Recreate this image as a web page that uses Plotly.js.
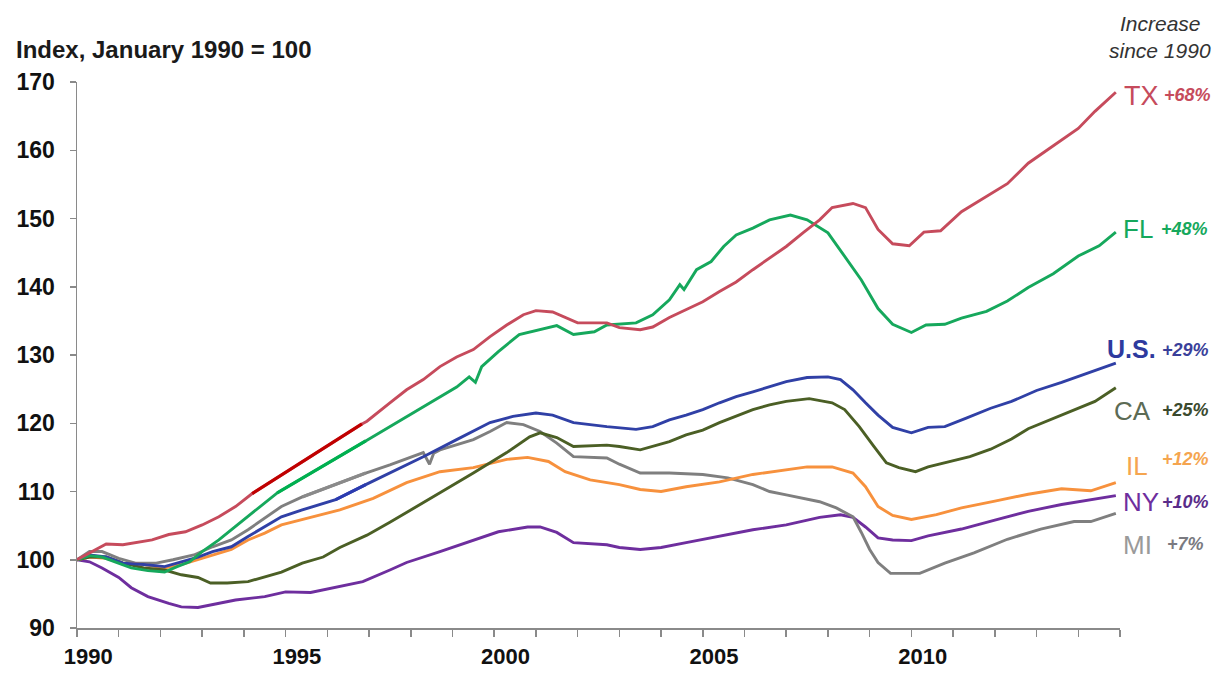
<!DOCTYPE html>
<html>
<head>
<meta charset="utf-8">
<script src="https://cdn.plot.ly/plotly-3.0.1.min.js"></script>
<style>html,body{margin:0;padding:0;background:#fff;}#chart{width:1221px;height:673px;}</style>
</head>
<body>
<div id="chart"></div>
<script>
// ---------- DATA (index, January 1990 = 100) ----------
const txYears = [1990.0,1990.3,1990.7,1991.1,1991.4,1991.8,1992.2,1992.6,1993.0,1993.4,1993.8,1994.2,1996.83,1996.95,1997.5,1997.9,1998.3,1998.7,1999.1,1999.5,1999.9,2000.3,2000.7,2001.0,2001.4,2001.7,2002.0,2002.7,2003.0,2003.5,2003.8,2004.2,2004.6,2005.0,2005.4,2005.8,2006.2,2006.6,2007.0,2007.4,2007.8,2008.1,2008.6,2008.9,2009.2,2009.55,2009.95,2010.3,2010.7,2011.2,2011.8,2012.3,2012.8,2013.4,2014.0,2014.4,2014.9];
const txValues = [100,101.0,102.3,102.2,102.5,102.9,103.7,104.1,105.1,106.3,107.8,109.7,119.9,120.3,123.0,124.9,126.4,128.3,129.7,130.8,132.7,134.4,135.9,136.5,136.3,135.5,134.7,134.7,134.0,133.7,134.1,135.5,136.6,137.8,139.3,140.7,142.5,144.2,145.9,147.9,149.8,151.6,152.2,151.6,148.4,146.3,146.0,148.0,148.2,151.0,153.3,155.1,158.1,160.6,163.2,165.7,168.5];

const flYears = [1990.0,1990.3,1990.6,1991.0,1991.3,1991.7,1992.1,1992.4,1992.7,1993.0,1993.4,1993.8,1994.2,1994.6,1994.8,1996.92,1997.5,1997.9,1998.3,1998.7,1999.1,1999.4,1999.55,1999.7,2000.1,2000.6,2001.1,2001.5,2001.9,2002.4,2002.7,2003.0,2003.4,2003.8,2004.2,2004.45,2004.55,2004.85,2005.2,2005.5,2005.8,2006.2,2006.6,2007.1,2007.5,2008.0,2008.4,2008.8,2009.2,2009.55,2010.0,2010.35,2010.8,2011.2,2011.8,2012.3,2012.8,2013.4,2014.0,2014.5,2014.9];
const flValues = [100,100.6,100.4,99.5,98.8,98.4,98.2,99.0,99.7,101.2,102.9,104.9,106.9,108.8,109.8,117.4,119.5,121.0,122.4,123.9,125.3,126.8,126.0,128.3,130.5,133.0,133.7,134.3,133.0,133.4,134.4,134.5,134.7,135.9,138.1,140.3,139.6,142.5,143.7,145.9,147.6,148.6,149.8,150.5,149.8,147.9,144.4,141.0,136.8,134.5,133.3,134.4,134.5,135.4,136.4,137.9,139.9,141.9,144.5,146.0,148.0];

const usYears = [1990.0,1990.3,1990.7,1991.1,1991.6,1992.1,1992.5,1992.9,1993.25,1993.7,1994.1,1994.5,1994.9,1995.4,1995.9,1996.2,1996.92,1997.5,1998.3,1999.1,1999.9,2000.45,2001.0,2001.4,2001.9,2002.7,2003.4,2003.8,2004.2,2004.6,2005.0,2005.4,2005.8,2006.2,2006.6,2007.0,2007.5,2008.0,2008.3,2008.6,2008.9,2009.2,2009.55,2010.0,2010.4,2010.8,2011.3,2011.9,2012.4,2013.0,2013.6,2014.2,2014.9];
const usValues = [100,100.7,100.4,99.5,99.3,99.0,99.7,100.4,101.2,101.9,103.4,104.9,106.3,107.3,108.3,108.8,111.0,112.7,115.1,117.6,120.1,121.0,121.5,121.2,120.1,119.5,119.1,119.5,120.5,121.2,122.0,123.0,123.9,124.6,125.3,126.1,126.7,126.8,126.4,124.9,123.0,121.2,119.4,118.6,119.4,119.5,120.7,122.2,123.2,124.8,126.0,127.3,128.8];

const caYears = [1990.0,1990.3,1990.7,1991.1,1991.6,1992.1,1992.5,1992.9,1993.2,1993.6,1994.1,1994.5,1994.9,1995.4,1995.9,1996.3,1996.95,1997.5,1997.9,1998.7,1999.5,2000.3,2000.85,2001.1,2001.5,2001.9,2002.7,2003.0,2003.5,2003.8,2004.2,2004.6,2005.0,2005.4,2005.8,2006.2,2006.6,2007.0,2007.55,2008.1,2008.4,2008.75,2009.1,2009.4,2009.7,2010.1,2010.4,2010.8,2011.4,2011.9,2012.4,2012.8,2013.4,2014.0,2014.4,2014.9];
const caValues = [100,100.4,100.4,99.5,98.8,98.5,97.8,97.4,96.6,96.6,96.8,97.5,98.2,99.5,100.4,101.8,103.6,105.5,106.9,109.8,112.7,115.7,118.0,118.6,117.9,116.6,116.8,116.6,116.1,116.6,117.3,118.3,119.0,120.1,121.0,122.0,122.7,123.2,123.6,123.0,122.0,119.5,116.6,114.2,113.5,112.9,113.6,114.2,115.1,116.2,117.7,119.2,120.7,122.2,123.2,125.2];

const ilYears = [1990.0,1990.3,1990.7,1991.1,1991.6,1992.1,1992.5,1992.9,1993.25,1993.7,1994.1,1994.5,1994.9,1995.4,1995.9,1996.3,1997.1,1997.9,1998.7,1999.5,2000.3,2000.8,2001.3,2001.7,2002.3,2003.0,2003.5,2004.0,2004.6,2005.4,2006.2,2007.0,2007.5,2008.1,2008.6,2008.9,2009.2,2009.55,2010.0,2010.6,2011.2,2012.0,2012.8,2013.6,2014.3,2014.9];
const ilValues = [100,100.4,100.2,99.5,99.3,98.8,99.3,100.0,100.7,101.5,102.9,103.9,105.1,105.9,106.6,107.3,109.0,111.3,112.9,113.5,114.7,115.0,114.4,112.9,111.7,111.0,110.3,110.0,110.7,111.4,112.5,113.2,113.6,113.6,112.7,110.7,107.8,106.5,105.9,106.6,107.6,108.6,109.6,110.4,110.1,111.3];

const nyYears = [1990.0,1990.3,1990.6,1991.0,1991.3,1991.7,1992.2,1992.5,1992.9,1993.25,1993.8,1994.5,1995.0,1995.6,1996.2,1996.85,1997.5,1997.9,1998.7,1999.5,2000.1,2000.8,2001.1,2001.5,2001.9,2002.7,2003.0,2003.5,2004.0,2004.6,2005.4,2006.2,2007.0,2007.8,2008.3,2008.6,2008.9,2009.2,2009.55,2010.0,2010.4,2011.2,2012.0,2012.8,2013.6,2014.3,2014.9];
const nyValues = [100,99.7,98.8,97.4,95.9,94.6,93.6,93.1,93.0,93.4,94.1,94.6,95.3,95.2,96.0,96.8,98.5,99.6,101.2,102.9,104.1,104.8,104.8,104.0,102.5,102.2,101.8,101.5,101.8,102.5,103.4,104.4,105.1,106.2,106.6,106.2,104.8,103.2,102.9,102.8,103.5,104.5,105.8,107.1,108.1,108.8,109.4];

const miYears = [1990.0,1990.3,1990.6,1991.0,1991.4,1991.9,1992.3,1992.8,1993.25,1993.7,1994.1,1994.5,1994.9,1995.4,1996.92,1997.5,1998.3,1998.45,1998.55,1998.7,1999.5,1999.9,2000.3,2000.7,2001.1,2001.5,2001.9,2002.7,2003.0,2003.5,2004.2,2005.0,2005.6,2006.2,2006.6,2007.0,2007.8,2008.2,2008.6,2008.8,2009.0,2009.2,2009.5,2010.2,2010.8,2011.5,2012.3,2013.1,2013.9,2014.3,2014.9];
const miValues = [100,101.2,101.2,100.2,99.5,99.5,100.0,100.7,101.9,102.9,104.4,106.1,107.8,109.2,112.7,113.9,115.7,114.0,115.6,116.1,117.6,118.8,120.1,119.8,118.8,117.1,115.1,114.9,114.0,112.7,112.7,112.5,112.0,111.0,110.0,109.5,108.5,107.6,106.3,104.0,101.5,99.6,98.0,98.0,99.5,101.0,103.0,104.5,105.6,105.6,106.8];

// straight bridging segments drawn in the source (mid-1990s)
const txBridgeYears = [1994.2, 1996.83];
const txBridgeValues = [109.7, 119.9];
const flBridgeYears = [1994.8, 1996.92];
const flBridgeValues = [109.8, 117.4];
const miBridgeYears = [1995.4, 1996.92];
const miBridgeValues = [109.2, 112.7];
const usBridgeYears = [1996.2, 1996.92];
const usBridgeValues = [108.8, 111.0];

const xTickVals = [1990.27, 1995.27, 2000.27, 2005.27, 2010.27];
const xTickText = ['1990', '1995', '2000', '2005', '2010'];
const yTickVals = [90, 100, 110, 120, 130, 140, 150, 160, 170];

const seriesNames = ['TX', 'FL', 'U.S.', 'CA', 'IL', 'NY', 'MI'];
const increaseText = ['+68%', '+48%', '+29%', '+25%', '+12%', '+10%', '+7%'];

// ---------- STYLE ----------
const FONT = 'Arial, "Liberation Sans", Helvetica, sans-serif';
const C = {
  TX: '#C64B5C', FL: '#16A85C', US: '#3040A6', CA: '#4B5F25',
  IL: '#F7913D', NY: '#6E2E9E', MI: '#7F7F7F'
};
function line(x, y, color, w) {
  return {x: x, y: y, type: 'scatter', mode: 'lines',
          line: {color: color, width: w || 2.9, shape: 'linear'},
          hoverinfo: 'x+y', showlegend: false};
}
const traces = [
  line(nyYears, nyValues, C.NY),
  line(miYears, miValues, C.MI),
  line(ilYears, ilValues, C.IL),
  line(caYears, caValues, C.CA),
  line(usYears, usValues, C.US),
  line(flYears, flValues, C.FL),
  line(txYears, txValues, C.TX),
  line(txBridgeYears, txBridgeValues, '#C00000', 3.2),
  line(flBridgeYears, flBridgeValues, '#00B050', 3.2),
  line(miBridgeYears, miBridgeValues, '#8A8A8A', 3.2),
  line(usBridgeYears, usBridgeValues, '#2B3BB0', 3.2)
];

// plot area: left 77px, width 1043px
function px(p) { return (p - 77) / 1043; }
const labelCfg = [
  {name: seriesNames[0], pct: increaseText[0], c: C.TX, pc: '#C64B5C', nx: 1122, px: 1162, y: 167.9, py: 168.1, size: 27, bold: false},
  {name: seriesNames[1], pct: increaseText[1], c: C.FL, pc: '#16A85C', nx: 1121, px: 1159, y: 148.4, py: 148.4, size: 26, bold: false},
  {name: seriesNames[2], pct: increaseText[2], c: '#2E3A9E', pc: '#3A3F9A', nx: 1105, px: 1160, y: 130.9, py: 130.7, size: 25, bold: true},
  {name: seriesNames[3], pct: increaseText[3], c: '#5C6B55', pc: '#3B4A2E', nx: 1112, px: 1160, y: 121.8, py: 122.0, size: 26, bold: false},
  {name: seriesNames[4], pct: increaseText[4], c: '#F5A54F', pc: '#F5A54F', nx: 1124, px: 1160, y: 113.8, py: 114.7, size: 26, bold: false},
  {name: seriesNames[5], pct: increaseText[5], c: '#6E2E9E', pc: '#5A2C8A', nx: 1121, px: 1160, y: 108.4, py: 108.4, size: 26, bold: false},
  {name: seriesNames[6], pct: increaseText[6], c: '#9A9A9A', pc: '#7A7A80', nx: 1121, px: 1165, y: 102.1, py: 102.3, size: 26, bold: false}
];
const annotations = [];
labelCfg.forEach(function (d) {
  annotations.push({x: px(d.nx), y: d.y, xref: 'paper', yref: 'y', xanchor: 'left', yanchor: 'middle',
    text: d.name, showarrow: false,
    font: {family: FONT, size: d.size, color: d.c, weight: d.bold ? 'bold' : 'normal'}});
  annotations.push({x: px(d.px), y: d.py, xref: 'paper', yref: 'y', xanchor: 'left', yanchor: 'middle',
    text: '<b><i>' + d.pct + '</i></b>', showarrow: false,
    font: {family: FONT, size: 18, color: d.pc}});
});
annotations.push({xref: 'paper', yref: 'paper', x: px(1160), y: 1 + (82 - 24) / 546,
  xanchor: 'center', yanchor: 'middle', showarrow: false, text: '<i>Increase</i>',
  font: {family: FONT, size: 21, color: '#333'}});
annotations.push({xref: 'paper', yref: 'paper', x: px(1160), y: 1 + (82 - 51) / 546,
  xanchor: 'center', yanchor: 'middle', showarrow: false, text: '<i>since 1990</i>',
  font: {family: FONT, size: 21, color: '#333'}});

const layout = {
  width: 1221, height: 673,
  margin: {l: 77, r: 101, t: 82, b: 45, pad: 0},
  paper_bgcolor: '#ffffff', plot_bgcolor: '#ffffff',
  font: {family: FONT, color: '#111'},
  title: {text: 'Index, January 1990 = 100', xref: 'container', yref: 'container',
          x: 16 / 1221, xanchor: 'left', y: 1 - 50 / 673, yanchor: 'middle',
          font: {family: FONT, size: 24, weight: 'bold', color: '#1a1a1a'}},
  xaxis: {range: [1990, 2015], tickmode: 'array', tickvals: xTickVals, ticktext: xTickText,
          ticks: '', showgrid: false, zeroline: false, showline: true,
          linecolor: '#8a8a8a', linewidth: 1.5, ticklabelstandoff: 8,
          tickfont: {family: FONT, size: 22, weight: 'bold', color: '#111'},
          minor: {tickmode: 'linear', tick0: 1990, dtick: 1, ticks: 'outside', ticklen: 7,
                  tickwidth: 1.5, tickcolor: '#8a8a8a', showgrid: false},
          fixedrange: true},
  yaxis: {range: [90, 170], tickmode: 'array', tickvals: yTickVals,
          ticks: 'outside', ticklen: 6, tickwidth: 1.5, tickcolor: '#8a8a8a',
          showgrid: false, zeroline: false, showline: true, linecolor: '#8a8a8a', linewidth: 1.5,
          ticklabelstandoff: 10,
          tickfont: {family: FONT, size: 23, weight: 'bold', color: '#111'},
          fixedrange: true},
  annotations: annotations,
  showlegend: false
};

Plotly.newPlot('chart', traces, layout, {displayModeBar: false, staticPlot: true});
</script>
</body>
</html>
